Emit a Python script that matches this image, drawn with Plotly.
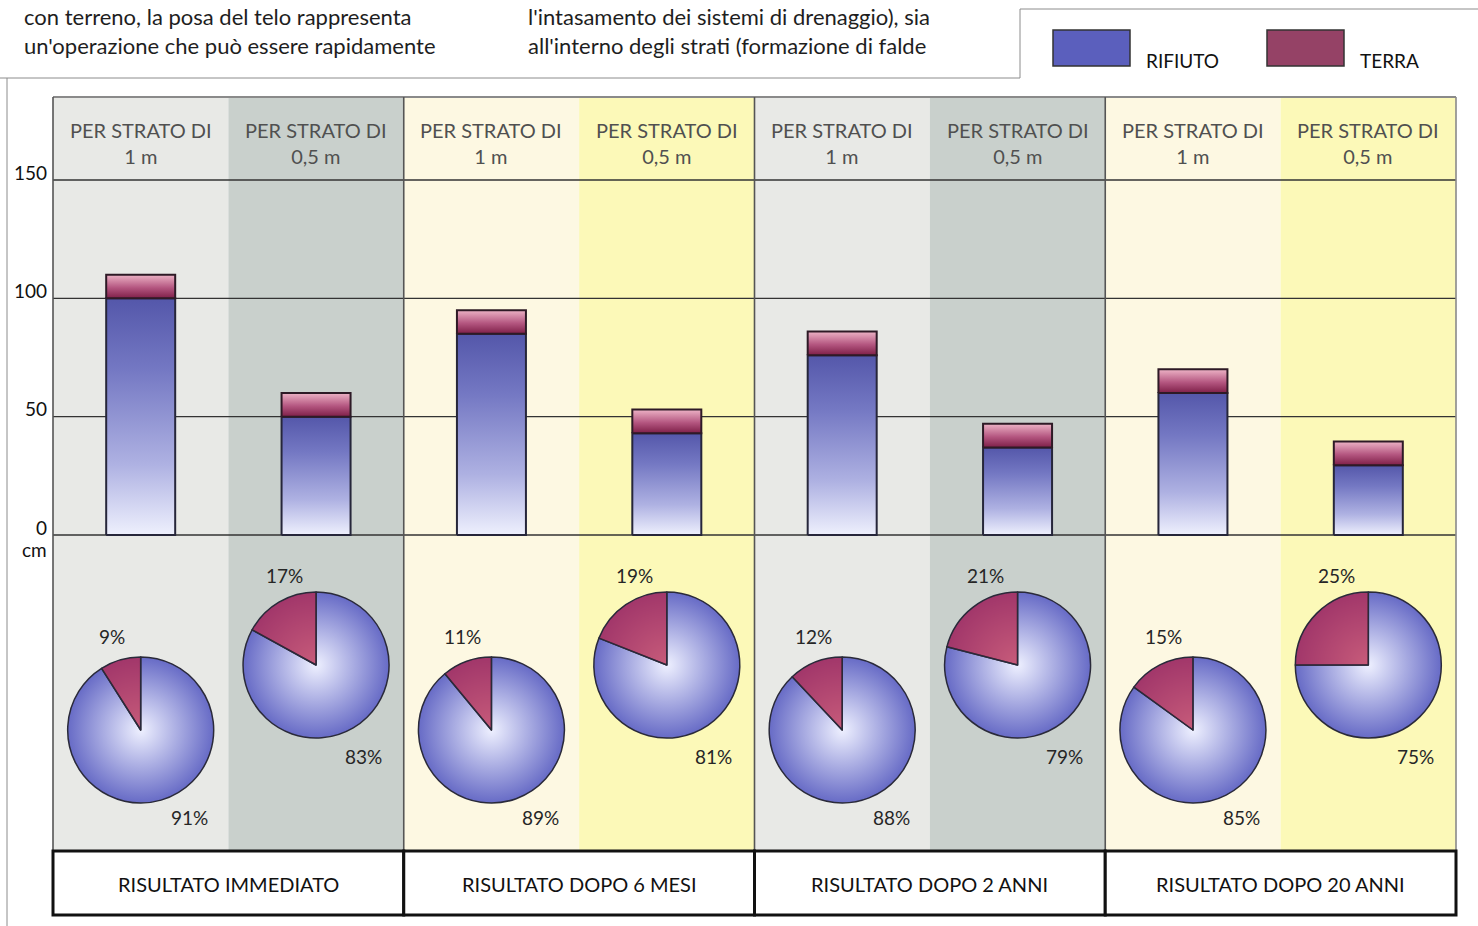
import plotly.graph_objects as go

# ---------------- data ----------------
group_labels = ["RISULTATO IMMEDIATO", "RISULTATO DOPO 6 MESI",
                "RISULTATO DOPO 2 ANNI", "RISULTATO DOPO 20 ANNI"]
layer_labels = ["PER STRATO DI<br>1 m", "PER STRATO DI<br>0,5 m"] * 4
rifiuto_cm = [100, 50, 85, 43, 76, 37, 60, 29.5]
terra_cm = [10, 10, 10, 10, 10, 10, 10, 10]
rifiuto_pct = [91, 83, 89, 81, 88, 79, 85, 75]
terra_pct = [9, 17, 11, 19, 12, 21, 15, 25]
y_ticks = [0, 50, 100, 150]
y_tick_text = ["0", "50", "100", "150"]
legend_names = ["RIFIUTO", "TERRA"]
text_left = ["con terreno, la posa del telo rappresenta",
             "un'operazione che può essere rapidamente"]
text_right = ["l'intasamento dei sistemi di drenaggio), sia",
              "all'interno degli strati (formazione di falde"]

# ---------------- geometry / style ----------------
W, H = 1478, 926
ML, MR, MT, MB = 45, 15, 90, 4
PW, PH = W - ML - MR, H - MT - MB
COLW = 1403 / 8.0
PPU = 355 / 150.0
FONT = "Lato"


def ydata(Y):
    return (535 - Y) / PPU


def xdata(X):
    return (X - 53) / COLW


def px_x(X):
    return (X - ML) / PW


def px_y(Y):
    return (H - MB - Y) / PH


X_MIN, X_MAX = xdata(ML), xdata(W - MR)
Y_MIN, Y_MAX = ydata(H - MB), ydata(MT)

col_colors = ["#e8e9e6", "#c9d0cc", "#fdf8e2", "#fcf9b8"] * 2
BLUE_SCALE = [[0, "#eef0fd"], [0.3, "#aeb1e2"], [0.7, "#7478c3"], [1, "#5457aa"]]
RED_SCALE = [[0, "#7e1f48"], [0.45, "#b45680"], [1, "#edb3c6"]]
BW = 69 / COLW
R_PIE = 73

fig = go.Figure()
shapes = []
annotations = []

# column backgrounds
for i, c in enumerate(col_colors):
    shapes.append(dict(type="rect", xref="x", yref="y", x0=i, x1=i + 1,
                       y0=ydata(851), y1=ydata(97), fillcolor=c,
                       line=dict(width=0), layer="below"))
# grid lines
for v in y_ticks:
    shapes.append(dict(type="line", xref="x", yref="y", x0=0, x1=8, y0=v, y1=v,
                       line=dict(color="#333333", width=1.3), layer="below"))
# top border and dividers
shapes.append(dict(type="line", xref="x", yref="y", x0=0, x1=8,
                   y0=ydata(97), y1=ydata(97),
                   line=dict(color="#8a8a8a", width=2), layer="below"))
for xv, col in [(0, "#555555"), (2, "#555555"), (4, "#555555"), (6, "#555555"), (8, "#8a8a8a")]:
    shapes.append(dict(type="line", xref="x", yref="y", x0=xv, x1=xv,
                       y0=ydata(851), y1=ydata(97),
                       line=dict(color=col, width=1.6), layer="below"))
# bottom boxes
for g, lab in enumerate(group_labels):
    shapes.append(dict(type="rect", xref="x", yref="y", x0=2 * g, x1=2 * g + 2,
                       y0=ydata(915), y1=ydata(851), fillcolor="white",
                       line=dict(color="#111111", width=3), layer="above"))
    annotations.append(dict(x=2 * g + 1, y=ydata(884), xref="x", yref="y",
                            text=lab, showarrow=False, yanchor="middle",
                            font=dict(family=FONT, size=20, color="#111111")))

# header labels
for i, lab in enumerate(layer_labels):
    annotations.append(dict(x=i + 0.5, y=ydata(143), xref="x", yref="y",
                            text=lab, showarrow=False, yanchor="middle",
                            font=dict(family=FONT, size=20, color="#505050")))

# y tick labels
for v, t in zip(y_ticks, y_tick_text):
    annotations.append(dict(x=0, y=v, xref="x", yref="y", text=t,
                            showarrow=False, xanchor="right", xshift=-4, yshift=8,
                            font=dict(family=FONT, size=19, color="#111111")))
annotations.append(dict(x=0, y=0, xref="x", yref="y", text="cm",
                        showarrow=False, xanchor="right", xshift=-4, yshift=-14,
                        font=dict(family=FONT, size=19, color="#111111")))

# bars (stacked, with vertical gradients)
for i in range(8):
    x0, x1 = i + 0.5 - BW / 2, i + 0.5 + BW / 2
    r = rifiuto_cm[i]
    t = terra_cm[i]
    fig.add_trace(go.Scatter(
        x=[x0, x0, x1, x1, x0], y=[0, r, r, 0, 0], mode="lines", fill="toself",
        fillgradient=dict(type="vertical", colorscale=BLUE_SCALE, start=0, stop=r),
        line=dict(color="#26263a", width=2), hoverinfo="skip", showlegend=False))
    fig.add_trace(go.Scatter(
        x=[x0, x0, x1, x1, x0], y=[r, r + t, r + t, r, r], mode="lines", fill="toself",
        fillgradient=dict(type="vertical", colorscale=RED_SCALE, start=r, stop=r + t),
        line=dict(color="#2e1a26", width=2), hoverinfo="skip", showlegend=False))

# pies
for i in range(8):
    cx = 53 + COLW * (i + 0.5)
    cy = 730 if i % 2 == 0 else 665
    # radial shading under the pie
    fig.add_trace(go.Scatter(
        x=[i + 0.5], y=[ydata(cy)], mode="markers",
        marker=dict(size=2 * R_PIE, color="#676bc6",
                    gradient=dict(type="radial", color="#eef0ff"),
                    line=dict(width=0)),
        hoverinfo="skip", showlegend=False))
    fig.add_trace(go.Pie(
        values=[rifiuto_pct[i], terra_pct[i]], labels=legend_names,
        sort=False, direction="clockwise", rotation=0, textinfo="none",
        hoverinfo="skip", showlegend=False,
        marker=dict(colors=["rgba(0,0,0,0)", "rgba(185,35,70,0.72)"],
                    line=dict(color="#2a2a3a", width=1.5)),
        domain=dict(x=[px_x(cx - R_PIE), px_x(cx + R_PIE)],
                    y=[px_y(cy + R_PIE), px_y(cy - R_PIE)])))
    if i % 2 == 0:
        tdx, tdy, rdx, rdy = -29, -94, 49, 87
    else:
        tdx, tdy, rdx, rdy = -32, -90, 47, 91
    annotations.append(dict(x=i + 0.5, y=ydata(cy + tdy), xref="x", yref="y",
                            xshift=tdx, text=f"{terra_pct[i]}%", showarrow=False,
                            yanchor="middle",
                            font=dict(family=FONT, size=19, color="#262626")))
    annotations.append(dict(x=i + 0.5, y=ydata(cy + rdy), xref="x", yref="y",
                            xshift=rdx, text=f"{rifiuto_pct[i]}%", showarrow=False,
                            yanchor="middle",
                            font=dict(family=FONT, size=19, color="#262626")))

# legend (custom, top right)
leg_cols = ["#5b5fbd", "#954266"]
leg_x = [1053, 1267]
for name, c, lx in zip(legend_names, leg_cols, leg_x):
    shapes.append(dict(type="rect", xref="paper", yref="paper",
                       x0=px_x(lx), x1=px_x(lx + 77), y0=px_y(66), y1=px_y(30),
                       fillcolor=c, line=dict(color="#333333", width=1.5)))
    annotations.append(dict(x=px_x(lx + 91), y=px_y(60), xref="paper", yref="paper",
                            text=name, showarrow=False, xanchor="left", yanchor="middle",
                            font=dict(family=FONT, size=19, color="#111111")))

# page frame lines
frame = [((0, 78), (1020, 78)), ((1020, 78), (1020, 9)), ((1020, 9), (1478, 9)),
         ((7, 78), (7, 926))]
for (xa, ya), (xb, yb) in frame:
    shapes.append(dict(type="line", xref="paper", yref="paper",
                       x0=px_x(xa), x1=px_x(xb), y0=px_y(ya), y1=px_y(yb),
                       line=dict(color="#8c8c8c", width=1)))

# body text at the top (one block per column, kept fully visible)
for lines, tx in [(text_left, 22), (text_right, 526)]:
    annotations.append(dict(x=px_x(tx), y=px_y(1), xref="paper", yref="paper",
                            text="<br>".join(lines), showarrow=False,
                            xanchor="left", yanchor="top", align="left",
                            font=dict(family=FONT, size=22, color="#1e1e1e")))

fig.update_layout(
    width=W, height=H,
    margin=dict(l=ML, r=MR, t=MT, b=MB),
    paper_bgcolor="white", plot_bgcolor="white",
    showlegend=False,
    xaxis=dict(range=[X_MIN, X_MAX], visible=False, fixedrange=True),
    yaxis=dict(range=[Y_MIN, Y_MAX], visible=False, fixedrange=True),
    shapes=shapes, annotations=annotations,
    font=dict(family=FONT),
)

fig.write_html("out.html")
